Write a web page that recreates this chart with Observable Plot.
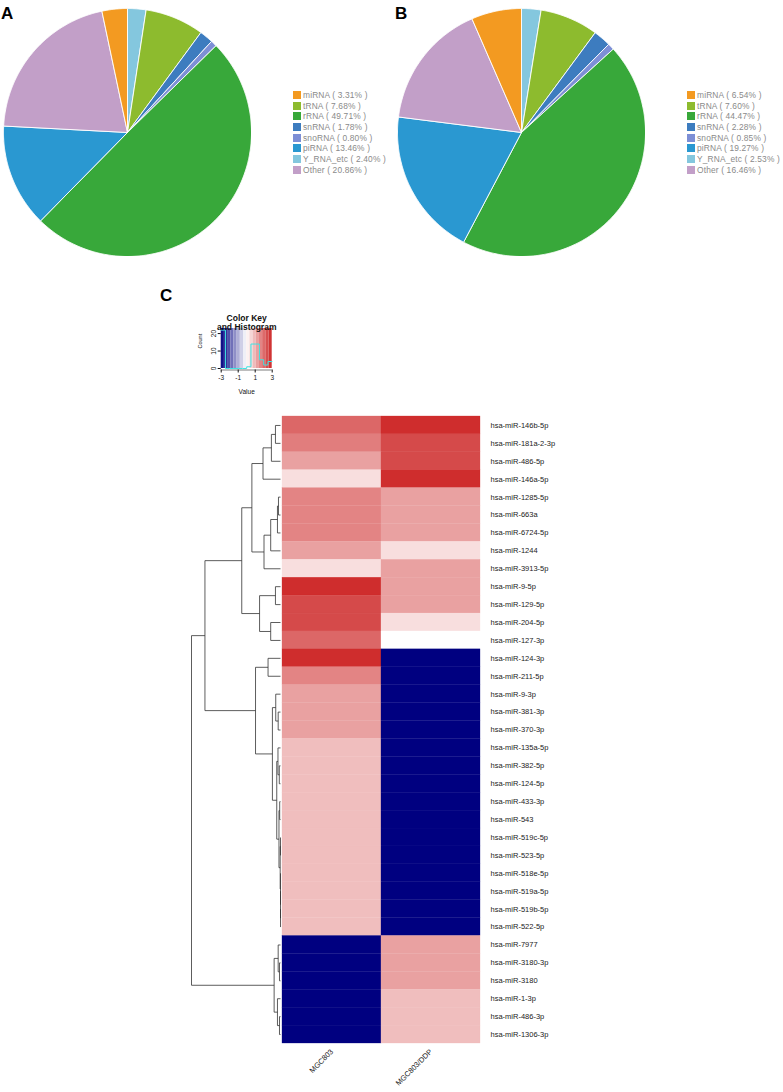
<!DOCTYPE html>
<html><head><meta charset="utf-8">
<script src="https://cdn.jsdelivr.net/npm/d3@7"></script>
<script src="https://cdn.jsdelivr.net/npm/@observablehq/plot@0.6"></script>
<style>
body{margin:0;background:#fff;}
#root{position:relative;width:783px;height:1092px;overflow:hidden;font-family:"Liberation Sans",Arial,sans-serif;}
.panel{font-weight:bold;font-size:17px;line-height:17px;color:#000;}
.legrow{position:absolute;height:10.7px;display:flex;align-items:center;font-size:8.4px;color:#8a8a8a;white-space:nowrap;letter-spacing:0.15px;}
.sw{display:inline-block;width:8px;height:8px;margin-right:2px;}
</style></head><body><div id="root"></div>
<script>
// ---------- Data: pies ----------
const rnaTypes  = ["miRNA","tRNA","rRNA","snRNA","snoRNA","piRNA","Y_RNA_etc","Other"];
const rnaColors = ["#f39a21","#8dbb2e","#38a83a","#3d7cbf","#7d8fd6","#2a98d1","#84c7de","#c29fc8"];
const pctA = [3.31, 7.68, 49.71, 1.78, 0.80, 13.46, 2.40, 20.86];
const pctB = [6.54, 7.60, 44.47, 2.28, 0.85, 19.27, 2.53, 16.46];
const sliceOrder = ["Y_RNA_etc","tRNA","snRNA","snoRNA","rRNA","piRNA","Other","miRNA"]; // clockwise from 12 o'clock

// ---------- Data: heatmap ----------
const genes = ["hsa-miR-146b-5p","hsa-miR-181a-2-3p","hsa-miR-486-5p","hsa-miR-146a-5p","hsa-miR-1285-5p",
 "hsa-miR-663a","hsa-miR-6724-5p","hsa-miR-1244","hsa-miR-3913-5p","hsa-miR-9-5p","hsa-miR-129-5p",
 "hsa-miR-204-5p","hsa-miR-127-3p","hsa-miR-124-3p","hsa-miR-211-5p","hsa-miR-9-3p","hsa-miR-381-3p",
 "hsa-miR-370-3p","hsa-miR-135a-5p","hsa-miR-382-5p","hsa-miR-124-5p","hsa-miR-433-3p","hsa-miR-543",
 "hsa-miR-519c-5p","hsa-miR-523-5p","hsa-miR-518e-5p","hsa-miR-519a-5p","hsa-miR-519b-5p","hsa-miR-522-5p",
 "hsa-miR-7977","hsa-miR-3180-3p","hsa-miR-3180","hsa-miR-1-3p","hsa-miR-486-3p","hsa-miR-1306-3p"];
const samples = ["MGC803","MGC803/DDP"];
const valMGC803 = [2.1,1.8,1.3,0.45,1.7,1.7,1.7,1.3,0.45,2.9,2.5,2.5,2.1,2.9,1.7,1.3,1.3,1.3,
 0.9,0.9,0.9,0.9,0.9,0.9,0.9,0.9,0.9,0.9,0.9,-3,-3,-3,-3,-3,-3];
const valDDP = [2.9,2.5,2.5,2.9,1.3,1.3,1.3,0.45,1.3,1.3,1.3,0.45,0,-3,-3,-3,-3,-3,
 -3,-3,-3,-3,-3,-3,-3,-3,-3,-3,-3,1.3,1.3,1.3,0.9,0.9,0.9];

// Row dendrogram, hclust-style merges: [left, right, height]; negative = leaf (row number)
const merges = [
 [-1,-2,5],[1,-3,9],[2,-4,17.3],[-5,-6,2],[4,-7,3],[5,-8,9.7],[6,-9,16.3],[3,7,28.3],
 [-10,-11,5],[-12,-13,9.7],[9,10,20.7],[8,11,38.3],[-14,-15,12.3],[-17,-18,2.3],[-16,14,4.7],
 [-20,-21,1.2],[-19,16,2.5],[-22,-23,0.8],[-24,-25,0],[-28,-29,0],[-27,20,0],[-26,21,0],
 [19,22,0.3],[18,23,1.5],[17,24,3.7],[15,25,8],[13,26,24.7],[12,27,74.7],
 [-31,-32,1],[-30,29,2.3],[-34,-35,1],[-33,31,3],[30,32,6.3],[28,33,88]
];

// Color key histogram
const histBreaks = [-3,-2.5,-2,-1.5,-1,-0.5,0,0.5,1,1.5,2,2.5,3];
const histCounts = [22,0,0,0,0,0,1,14,14,5,2,4];
const keyBreaks = [-3,-2.625,-2.25,-1.875,-1.5,-1.125,-0.75,-0.375,0,0.375,0.75,1.125,1.5,1.875,2.25,2.625,3];
const keyTicksX = [-3,-1,1,3];
const keyTicksY = [0,10,20];

const FONT = "'Liberation Sans', Arial, sans-serif";
const colorOpts = {type:"linear", domain:[-3,0,3], range:["#000080","#ffffff","#cd2626"], interpolate:"rgb"};

const root = document.getElementById("root");
function place(el, left, top){ el.style.position="absolute"; el.style.left=left+"px"; el.style.top=top+"px"; root.appendChild(el); return el; }

// ---------- Pies ----------
function pieData(pcts){
  const total = d3.sum(pcts);
  let acc = 0; const pts = [];
  for (const name of sliceOrder){
    const v = pcts[rnaTypes.indexOf(name)];
    const a0 = acc/total*2*Math.PI, a1 = (acc+v)/total*2*Math.PI;
    acc += v;
    pts.push({name, x:0, y:0});
    const n = Math.max(2, Math.ceil((a1-a0)/(Math.PI/360)));
    for (let k=0;k<=n;k++){ const a=a0+(a1-a0)*k/n; pts.push({name, x:Math.sin(a), y:Math.cos(a)}); }
    pts.push({name, x:0, y:0});
  }
  return pts;
}
function piePlot(pcts){
  return Plot.plot({width:248, height:248, margin:0,
    x:{domain:[-1,1], axis:null}, y:{domain:[-1,1], axis:null},
    color:{domain:rnaTypes, range:rnaColors},
    marks:[Plot.line(pieData(pcts), {x:"x", y:"y", z:"name", fill:"name", stroke:"white", strokeWidth:0.9, strokeLinejoin:"round"})]
  });
}
place(piePlot(pctA), 3, 8);
place(piePlot(pctB), 397, 8);

function legend(pcts, left){
  rnaTypes.forEach((t,i)=>{
    const row = document.createElement("div");
    row.className = "legrow";
    row.innerHTML = `<span class="sw" style="background:${rnaColors[i]}"></span>${t} ( ${pcts[i].toFixed(2)}% )`;
    place(row, left, 95 + i*10.7 - 5.35);
  });
}
legend(pctA, 293);
legend(pctB, 687);

function panel(txt, left, top){ const d=document.createElement("div"); d.className="panel"; d.textContent=txt; place(d,left,top); }
panel("A", 1, 5); panel("B", 395, 5); panel("C", 160, 287);

// ---------- Color key ----------
const keyBands = keyBreaks.slice(0,-1).map((b,i)=>({x1:b, x2:keyBreaks[i+1], mid:(b+keyBreaks[i+1])/2}));
const histPts = histBreaks.map((b,i)=>({x:b, y: i<histCounts.length ? histCounts[i] : histCounts[histCounts.length-1]}));
const keyPlot = Plot.plot({
  width:110, height:100, marginLeft:40.7, marginRight:18.3, marginTop:28, marginBottom:32,
  style:{fontFamily:FONT, overflow:"visible", color:"#111"},
  x:{domain:[-3,3], label:null}, y:{domain:[0,22.9], label:null},
  color: colorOpts,
  marks:[
    Plot.rect(keyBands, {x1:"x1", x2:"x2", y1:0, y2:22.9, fill:"mid"}),
    Plot.line(histPts, {x:"x", y:"y", curve:"step-after", stroke:"#3fe3e3", strokeWidth:1}),
    Plot.ruleY([0], {x1:-3, x2:3, dy:1.5, stroke:"#222", strokeWidth:0.6}),
    Plot.axisX({ticks:keyTicksX, tickFormat:d=>String(d), tickSize:3, tickPadding:2, fontSize:6.5, dy:1.5, label:null}),
    Plot.axisY({ticks:keyTicksY, tickFormat:d=>String(d), tickSize:3, tickPadding:2, tickRotate:-90, fontSize:6.5, label:null}),
    Plot.text(["Count"], {text:d=>d, frameAnchor:"left", dx:-20.5, rotate:-90, fontSize:5.5}),
    Plot.text(["Value"], {text:d=>d, frameAnchor:"bottom", dy:25, fontSize:6.5}),
    Plot.text(["Color Key"], {text:d=>d, frameAnchor:"top", dy:-14, fontSize:8.5, fontWeight:"bold"}),
    Plot.text(["and Histogram"], {text:d=>d, frameAnchor:"top", dy:-5, fontSize:8.5, fontWeight:"bold"})
  ]
});
place(keyPlot, 180, 300);

// ---------- Heatmap ----------
const cells = genes.flatMap((g,i)=>[
  {gene:g, sample:samples[0], value:valMGC803[i]},
  {gene:g, sample:samples[1], value:valDDP[i]}
]);
const heat = Plot.plot({
  width:783, height:692, marginLeft:281, marginRight:303, marginTop:16, marginBottom:49,
  style:{fontFamily:FONT, color:"#222", background:"transparent"},
  x:{domain:samples, padding:0, label:null},
  y:{domain:genes, padding:0, label:null},
  color: colorOpts,
  marks:[
    Plot.cell(cells, {x:"sample", y:"gene", fill:"value", inset:0, stroke:"value", strokeWidth:0.3}),
    Plot.axisY({anchor:"right", tickSize:0, tickPadding:10, fontSize:7.5, label:null}),
    Plot.axisX({anchor:"bottom", tickSize:0, tickPadding:7, tickRotate:-45, fontSize:7.5, label:null})
  ]
});
place(heat, 0, 400);

// ---------- Dendrogram ----------
function dendroSegments(){
  const node = [];
  const get = id => id < 0 ? {h:0, y:-id} : node[id];
  const segs = [];
  merges.forEach(([a,b,h],k)=>{
    const A = get(a), B = get(b);
    segs.push({x1:h, y1:A.y, x2:h, y2:B.y});
    segs.push({x1:h, y1:A.y, x2:A.h, y2:A.y});
    segs.push({x1:h, y1:B.y, x2:B.h, y2:B.y});
    node[k+1] = {h, y:(A.y+B.y)/2};
  });
  return segs;
}
const dendro = Plot.plot({
  width:281, height:692, margin:0,
  x:{domain:[88,0], range:[191,280], axis:null},
  y:{domain:[0.5,35.5], range:[16,643], axis:null},
  marks:[Plot.link(dendroSegments(), {x1:"x1", y1:"y1", x2:"x2", y2:"y2", stroke:"#333", strokeWidth:0.8})]
});
place(dendro, 0, 400);
</script></body></html>
